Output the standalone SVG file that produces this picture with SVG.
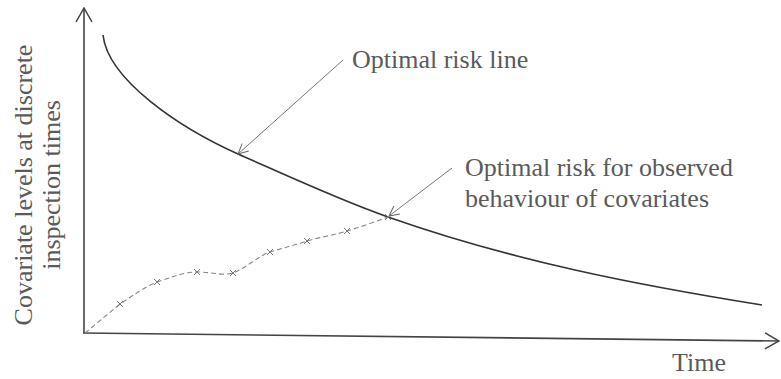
<svg xmlns="http://www.w3.org/2000/svg" width="781" height="379" viewBox="0 0 781 379">
<style>
  .t { font-family: "Liberation Serif", "Times New Roman", serif; font-size: 26px; fill: #5a5a5a; }
  .ax { stroke: #444; stroke-width: 1.6; fill: none; }
  .curve { stroke: #333; stroke-width: 1.6; fill: none; }
  .ptr { stroke: #777; stroke-width: 1; fill: none; }
  .dash { stroke: #888; stroke-width: 1.1; fill: none; stroke-dasharray: 5 3; }
  .mk { stroke: #777; stroke-width: 1; }
</style>
<defs>
  <marker id="open" viewBox="0 0 12 12" refX="11" refY="6" markerWidth="12" markerHeight="12" markerUnits="userSpaceOnUse" orient="auto">
    <path d="M1,1 L11,6 L1,11" fill="none" stroke="#666" stroke-width="1"/>
  </marker>
  <marker id="axh" viewBox="0 0 16 18" refX="15" refY="9" markerWidth="16" markerHeight="18" markerUnits="userSpaceOnUse" orient="auto">
    <path d="M1,1 L15,9 L1,17" fill="none" stroke="#444" stroke-width="1.5"/>
  </marker>
</defs>
<g id="axes">
  <line class="ax" x1="84" y1="333" x2="84" y2="8" marker-end="url(#axh)"/>
  <line class="ax" x1="83" y1="333" x2="779" y2="341" marker-end="url(#axh)"/>
</g>
<g id="optimal-risk-curve">
  <path class="curve" d="M103,35 C108,80 180,128 238,154 C288,176 338,199.5 388,217 C513,261 637,285 762,305"/>
</g>
<g id="covariate-path">
  <path class="dash" d="M85,333 L120,304 C135,294 145,287 157,282 C172,277 185,272 197,272 C212,272 222,276 233,273 C248,267 258,256 270,252 C283,248 295,245 307,241 C320,237 335,235 347,231 C360,227 375,222 388,217"/>
  <g class="mk">
    <path d="M117,301 l6,6 M123,301 l-6,6"/>
    <path d="M154,279 l6,6 M160,279 l-6,6"/>
    <path d="M194,269 l6,6 M200,269 l-6,6"/>
    <path d="M230,270 l6,6 M236,270 l-6,6"/>
    <path d="M267,249 l6,6 M273,249 l-6,6"/>
    <path d="M304,238 l6,6 M310,238 l-6,6"/>
    <path d="M344,228 l6,6 M350,228 l-6,6"/>
    <path d="M385,214 l6,6 M391,214 l-6,6"/>
  </g>
</g>
<g id="connectors">
  <line class="ptr" x1="343" y1="60" x2="238" y2="154" marker-end="url(#open)"/>
  <line class="ptr" x1="452" y1="168" x2="389" y2="216" marker-end="url(#open)"/>
</g>
<g id="label-line">
  <text class="t" x="352" y="68">Optimal risk line</text>
</g>
<g id="label-observed">
  <text class="t" x="465" y="176">Optimal risk for observed</text>
  <text class="t" x="465" y="207">behaviour of covariates</text>
</g>
<g id="label-time">
  <text class="t" x="672" y="371" font-size="25">Time</text>
</g>
<g id="label-y">
  <text class="t" text-anchor="middle" transform="translate(32,185) rotate(-90)">Covariate levels at discrete</text>
  <text class="t" text-anchor="middle" transform="translate(60,185) rotate(-90)">inspection times</text>
</g>
</svg>
